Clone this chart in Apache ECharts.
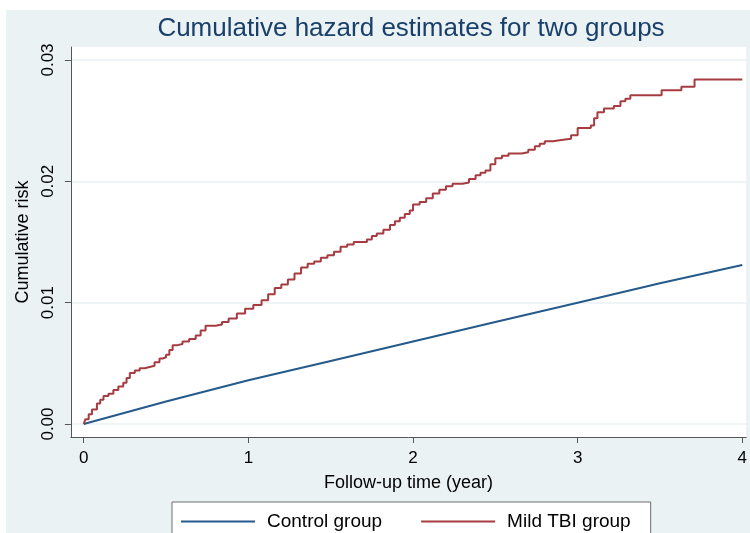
<!DOCTYPE html>
<html>
<head>
<meta charset="utf-8">
<script src="https://cdn.jsdelivr.net/npm/echarts@6/dist/echarts.min.js"></script>
<style>
  html, body { margin: 0; padding: 0; background: #ffffff; }
  #hazard { position: absolute; left: 6px; top: 10px; width: 744px; height: 523px; background: #eaf2f3; }
</style>
</head>
<body>
<div id="hazard"></div>
<script>
// 累积风险，读自原图
const xTicks = [0, 1, 2, 3, 4];
const yTicks = [0, 0.01, 0.02, 0.03];

const controlYears = [0, 0.5, 1, 1.5, 2, 2.5, 3, 3.5, 4];
const controlRisk = [0, 0.00185, 0.0036, 0.0052, 0.0068, 0.0084, 0.0100, 0.0116, 0.0131];

const tbiYears = [
  0.00, 0.01, 0.03, 0.05, 0.08, 0.10, 0.12, 0.15, 0.18, 0.21,
  0.24, 0.26, 0.28, 0.31, 0.34, 0.37, 0.40, 0.43, 0.46, 0.48,
  0.50, 0.52, 0.54, 0.57, 0.60, 0.64, 0.68, 0.71, 0.74, 0.80,
  0.84, 0.88, 0.93, 0.98, 1.03, 1.08, 1.12, 1.16, 1.20, 1.24,
  1.28, 1.32, 1.36, 1.40, 1.44, 1.48, 1.52, 1.56, 1.60, 1.64,
  1.72, 1.75, 1.78, 1.82, 1.86, 1.89, 1.92, 1.95, 1.98, 2.00,
  2.04, 2.08, 2.12, 2.16, 2.20, 2.24, 2.30, 2.34, 2.38, 2.41,
  2.44, 2.47, 2.50, 2.54, 2.58, 2.66, 2.70, 2.74, 2.77, 2.80,
  2.85, 2.90, 2.96, 3.00, 3.08, 3.10, 3.12, 3.16, 3.22, 3.26,
  3.29, 3.32, 3.51, 3.63, 3.71, 4.00
];
const tbiRisk = [
  0.0000, 0.0004, 0.0008, 0.0012, 0.0017, 0.0020, 0.0023, 0.0025, 0.0028, 0.0031,
  0.0034, 0.0038, 0.0042, 0.0044, 0.0046, 0.0047, 0.0048, 0.0051, 0.0054, 0.0055,
  0.0057, 0.0061, 0.0065, 0.0066, 0.0068, 0.0070, 0.0073, 0.0077, 0.0081, 0.0082,
  0.0084, 0.0087, 0.0091, 0.0095, 0.0098, 0.0102, 0.0107, 0.0112, 0.0115, 0.0119,
  0.0124, 0.0129, 0.0132, 0.0134, 0.0137, 0.0139, 0.0142, 0.0146, 0.0148, 0.0150,
  0.0152, 0.0155, 0.0157, 0.0160, 0.0164, 0.0167, 0.0170, 0.0173, 0.0176, 0.0181,
  0.0183, 0.0186, 0.0190, 0.0193, 0.0196, 0.0198, 0.0199, 0.0202, 0.0205, 0.0207,
  0.0209, 0.0214, 0.0219, 0.0221, 0.0223, 0.0224, 0.0226, 0.0229, 0.0231, 0.0233,
  0.0234, 0.0235, 0.0238, 0.0244, 0.0246, 0.0252, 0.0257, 0.0260, 0.0262, 0.0266,
  0.0268, 0.0271, 0.0275, 0.0278, 0.0284, 0.0284
];

const pairs = (xs, ys) => xs.map((x, i) => [x, ys[i]]);

const chart = echarts.init(document.getElementById("hazard"));
const font = "'Liberation Sans', Arial, sans-serif";
const axisGray = "#555555";

chart.setOption({
  animation: false,
  textStyle: { fontFamily: font },
  title: {
    text: "Cumulative hazard estimates for two groups",
    left: 400,
    top: 1,
    textAlign: "center",
    textStyle: { color: "#1a3f6b", fontSize: 26, fontWeight: "normal", fontFamily: font }
  },
  grid: {
    left: 61,
    right: 0,
    top: 37,
    bottom: 96,
    show: true,
    backgroundColor: "#ffffff",
    borderWidth: 0
  },
  xAxis: {
    type: "value",
    min: -0.078,
    max: 4.024,
    name: "Follow-up time (year)",
    nameLocation: "middle",
    nameGap: 37,
    nameTextStyle: { color: "#000", fontSize: 18 },
    axisLine: { onZero: false, lineStyle: { color: axisGray, width: 1 } },
    axisTick: { customValues: xTicks, length: 6, lineStyle: { color: axisGray } },
    axisLabel: { customValues: xTicks, color: "#000", fontSize: 17, margin: 13 },
    splitLine: { show: false }
  },
  yAxis: {
    type: "value",
    min: -0.00107,
    max: 0.03107,
    name: "Cumulative risk",
    nameLocation: "middle",
    nameGap: 34,
    nameTextStyle: { color: "#000", fontSize: 18 },
    axisLine: { show: true, onZero: false, lineStyle: { color: axisGray, width: 1 } },
    axisTick: { show: true, customValues: yTicks, length: 6, lineStyle: { color: axisGray } },
    axisLabel: {
      customValues: yTicks,
      rotate: 90,
      color: "#000",
      fontSize: 17,
      margin: 14,
      formatter: v => v.toFixed(2)
    },
    splitLine: { show: true, lineStyle: { color: "#eaf2f3", width: 1.5 } }
  },
  legend: {
    left: 166,
    top: 492,
    orient: "horizontal",
    backgroundColor: "#ffffff",
    borderColor: "#6e6e6e",
    borderWidth: 1,
    borderRadius: 0,
    padding: [10, 20, 14, 9],
    icon: "rect",
    itemWidth: 74,
    itemHeight: 2,
    itemGap: 39,
    textStyle: { color: "#000", fontSize: 19, padding: [0, 0, 0, 7] },
    data: ["Control group", "Mild TBI group"]
  },
  series: [
    {
      name: "Control group",
      type: "line",
      symbol: "none",
      data: pairs(controlYears, controlRisk),
      lineStyle: { color: "#255a8a", width: 2 },
      itemStyle: { color: "#255a8a" }
    },
    {
      name: "Mild TBI group",
      type: "line",
      symbol: "none",
      step: "end",
      data: pairs(tbiYears, tbiRisk),
      lineStyle: { color: "#a63c41", width: 2 },
      itemStyle: { color: "#a63c41" }
    }
  ]
});
</script>
</body>
</html>
